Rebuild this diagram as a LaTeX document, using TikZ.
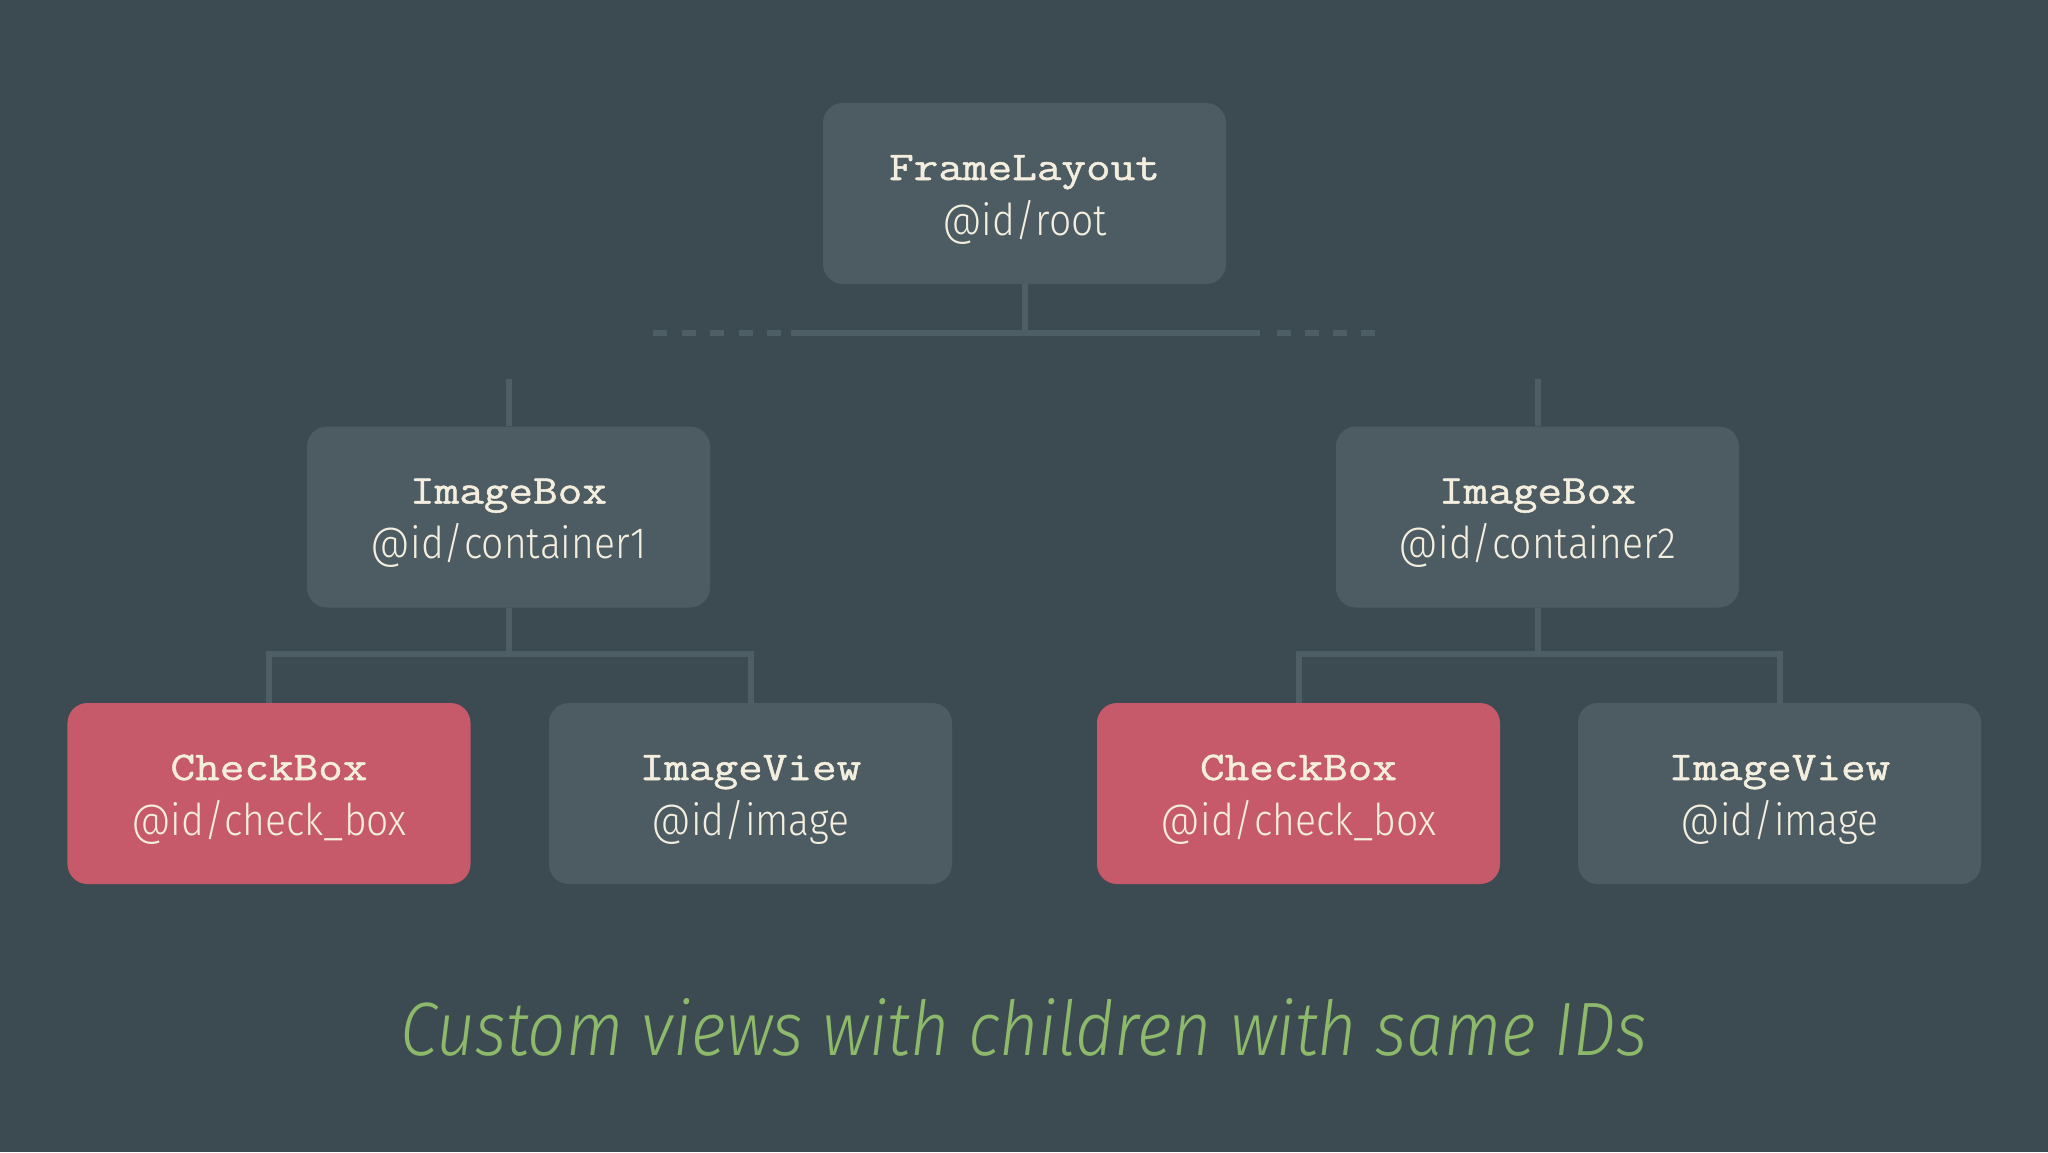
\documentclass[tikz,border=0pt]{standalone}
\usepackage{fontspec}
\setmainfont{Fira Sans Light}[FakeStretch=0.89]
\newfontfamily\monob{Latin Modern Mono}[FakeStretch=1.17, FakeBold=1.2]
\newfontfamily\lightit{Fira Sans Light Italic}[FakeStretch=0.89]
\usetikzlibrary{calc}
\definecolor{bg}{HTML}{3C4B52}
\definecolor{boxg}{HTML}{4D5C63}
\definecolor{boxr}{HTML}{C75A6A}
\definecolor{linec}{HTML}{4E5E65}
\definecolor{txt}{HTML}{F4EEDF}
\definecolor{subg}{HTML}{8DB96A}
\tikzset{
  gbox/.style={fill=boxg, rounded corners=20bp, minimum width=403bp, minimum height=181bp, inner sep=0pt},
  rbox/.style={gbox, fill=boxr},
  ttl/.style={anchor=base, text=txt, font=\monob\fontsize{41}{50}\selectfont, inner sep=0pt},
  idl/.style={anchor=base, text=txt, font=\fontsize{44}{52}\selectfont, inner sep=0pt},
  conn/.style={draw=linec, line width=6bp},
}
\begin{document}
\begin{tikzpicture}[x=1bp,y=-1bp]
\fill[bg] (0,0) rectangle (2048,1152);
\useasboundingbox (0,0) rectangle (2048,1152);

% boxes
\node[gbox] (root) at (1024.5,193.5) {};
\node[gbox] (c1) at (508.5,517) {};
\node[gbox] (c2) at (1537.5,517) {};
\node[rbox] (cb1) at (269,793.5) {};
\node[gbox] (iv1) at (750.5,793.5) {};
\node[rbox] (cb2) at (1298.5,793.5) {};
\node[gbox] (iv2) at (1779.5,793.5) {};

% labels
\foreach \n/\t/\i in {root/FrameLayout/@id\slash root, c1/ImageBox/@id\slash container1, c2/ImageBox/@id\slash container2, cb1/CheckBox/@id\slash check\_box, iv1/ImageView/@id\slash image, cb2/CheckBox/@id\slash check\_box, iv2/ImageView/@id\slash image}{
  \node[ttl] (\n-t) at ($(\n.center)+(0,-13.5)$) {\t};
  \node[idl] (\n-i) at ($(\n.center)+(0,41.5)$) {\i};
}

% root connector
\coordinate (bus0) at (1024.5,333);
\coordinate (busL) at (791,333);
\coordinate (busR) at (1260,333);
\coordinate (dL1) at (653,333);
\coordinate (dL2) at (784,333);
\coordinate (dR1) at (1277,333);
\coordinate (dR2) at (1376,333);
\draw[conn] (root.south) -- (bus0);
\draw[conn] (busL) -- (busR);
\draw[conn, dash pattern=on 14bp off 14.5bp] (dL1) -- (dL2);
\draw[conn, dash pattern=on 14bp off 14bp] (dR1) -- (dR2);

% stubs
\coordinate (s1) at (508.5,379);
\coordinate (s2) at (1537.5,379);
\draw[conn] (s1) -- (c1.north);
\draw[conn] (s2) -- (c2.north);

% level 3 connectors
\coordinate (bus1) at (508.5,654);
\coordinate (bus2) at (1537.5,654);
\draw[conn] (c1.south) -- (bus1);
\draw[conn] (cb1.north) |- (bus1) -| (iv1.north);
\draw[conn] (c2.south) -- (bus2);
\draw[conn] (cb2.north) |- (bus2) -| (iv2.north);

% caption
\node[anchor=base, text=subg, font=\lightit\fontsize{76}{90}\selectfont, inner sep=0pt] (cap) at (1024,1055) {Custom views with children with same IDs};
\end{tikzpicture}
\end{document}
